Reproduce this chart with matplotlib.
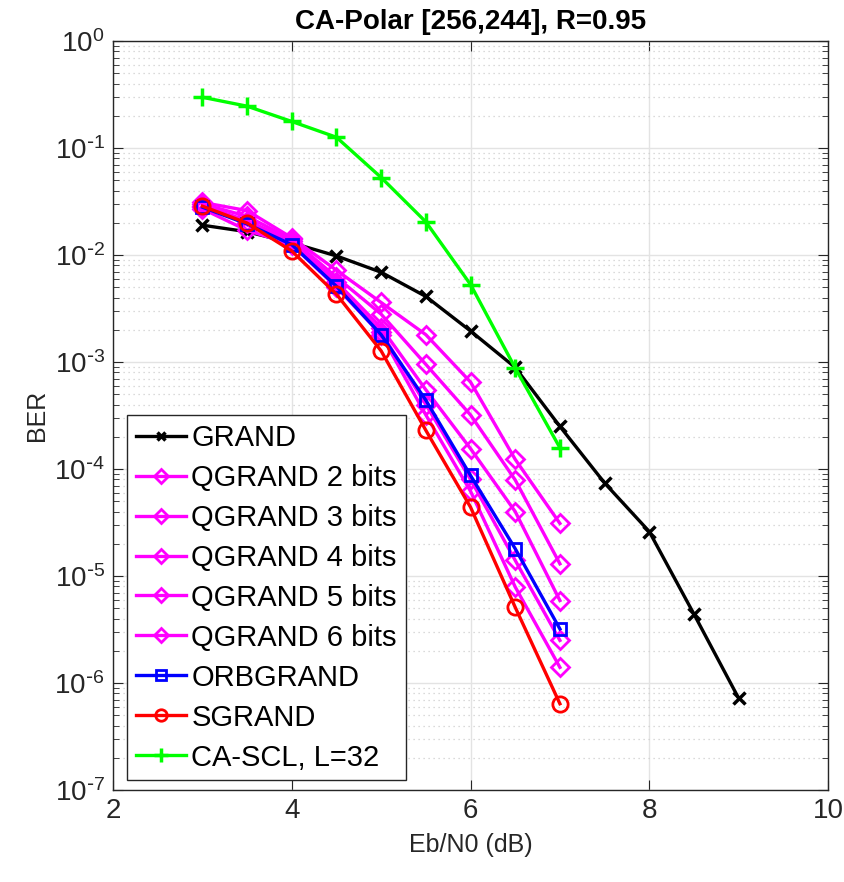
import numpy as np
import matplotlib
matplotlib.use("Agg")
import matplotlib.pyplot as plt
from matplotlib.ticker import LogLocator, FixedLocator, NullFormatter, FuncFormatter

plt.rcParams['font.family'] = ['Liberation Sans', 'DejaVu Sans']
plt.rcParams['mathtext.default'] = 'regular'

# Eb/N0 grids (dB)
snr_grand = [3, 3.5, 4, 4.5, 5, 5.5, 6, 6.5, 7, 7.5, 8, 8.5, 9]
snr_short = [3, 3.5, 4, 4.5, 5, 5.5, 6, 6.5, 7]

# Bit error rates
ber_grand = [1.9e-2, 1.65e-2, 1.3e-2, 9.8e-3, 6.9e-3, 4.1e-3, 1.95e-3, 8.9e-4,
             2.5e-4, 7.4e-5, 2.6e-5, 4.4e-6, 7.2e-7]
ber_q2 = [3.1e-2, 2.6e-2, 1.45e-2, 7.2e-3, 3.6e-3, 1.8e-3, 6.5e-4, 1.23e-4, 3.1e-5]
ber_q3 = [3.0e-2, 2.3e-2, 1.4e-2, 6.2e-3, 2.8e-3, 9.5e-4, 3.2e-4, 7.9e-5, 1.3e-5]
ber_q4 = [2.9e-2, 2.1e-2, 1.35e-2, 5.6e-3, 2.1e-3, 5.5e-4, 1.55e-4, 4.0e-5, 5.9e-6]
ber_q5 = [2.8e-2, 2.0e-2, 1.3e-2, 5.2e-3, 1.9e-3, 4.0e-4, 8.0e-5, 1.4e-5, 2.5e-6]
ber_q6 = [2.7e-2, 1.7e-2, 1.25e-2, 5.0e-3, 1.8e-3, 3.2e-4, 6.2e-5, 7.9e-6, 1.4e-6]
ber_orb = [2.8e-2, 1.95e-2, 1.25e-2, 5.1e-3, 1.8e-3, 4.4e-4, 8.7e-5, 1.8e-5, 3.2e-6]
ber_sgrand = [2.86e-2, 1.99e-2, 1.09e-2, 4.3e-3, 1.27e-3, 2.3e-4, 4.4e-5, 5.1e-6, 6.4e-7]
ber_scl = [0.298, 0.246, 0.177, 0.126, 0.053, 0.0204, 5.3e-3, 8.8e-4, 1.58e-4]

labels = ['GRAND', 'QGRAND 2 bits', 'QGRAND 3 bits', 'QGRAND 4 bits',
          'QGRAND 5 bits', 'QGRAND 6 bits', 'ORBGRAND', 'SGRAND', 'CA-SCL, L=32']
x_ticks = [2, 4, 6, 8, 10]
y_decades = [-7, -6, -5, -4, -3, -2, -1, 0]

fig = plt.figure(figsize=(8.44, 8.82), dpi=100)
ax = fig.add_axes([0.1339, 0.1043, 0.8472, 0.8492])

lw = 2.4
mk = dict(markerfacecolor='none', markeredgewidth=2.0)
ax.plot(snr_grand, ber_grand, color='black', marker='x', markersize=8.5, lw=lw,
        markeredgewidth=2.5, label=labels[0])
magenta = '#FF00FF'
for ber, lab in zip([ber_q2, ber_q3, ber_q4, ber_q5, ber_q6], labels[1:6]):
    ax.plot(snr_short, ber, color=magenta, marker='D', markersize=9.5, lw=lw,
            label=lab, **mk)
ax.plot(snr_short, ber_orb, color='#0000FF', marker='s', markersize=9, lw=lw,
        label=labels[6], **mk)
ax.plot(snr_short, ber_sgrand, color='#FF0000', marker='o', markersize=11, lw=lw,
        label=labels[7], **mk)
ax.plot(snr_short, ber_scl, color='#00FF00', marker='+', markersize=13, lw=lw,
        markeredgewidth=2.5, label=labels[8])

ax.set_yscale('log')
ax.set_xlim(2, 10)
ax.set_ylim(1e-7, 1)
ax.xaxis.set_major_locator(FixedLocator(x_ticks))
ax.yaxis.set_major_locator(FixedLocator([10.0 ** e for e in y_decades]))
minor = [m * 10.0 ** e for e in y_decades[:-1] for m in range(2, 10)]
ax.yaxis.set_minor_locator(FixedLocator(minor))
ax.yaxis.set_minor_formatter(NullFormatter())


def decade_label(v, pos):
    e = int(round(np.log10(v)))
    if e < 0:
        return r'$10^{\text{-}%d}$' % (-e)
    return r'$10^{%d}$' % e


ax.yaxis.set_major_formatter(FuncFormatter(decade_label))

ax.grid(True, which='major', color='#E3E3E3', lw=1.0)
ax.grid(True, which='minor', axis='y', color='#CFCFCF', lw=0.9, linestyle=(0, (1, 3)))
ax.set_axisbelow(True)

axis_col = '#262626'
for s in ax.spines.values():
    s.set_color(axis_col)
    s.set_linewidth(1.0)
ax.tick_params(which='both', direction='in', top=True, right=True, colors=axis_col,
               labelcolor='#262626')
ax.tick_params(which='major', labelsize=20, length=7, pad=6)
ax.tick_params(which='minor', length=4)

ax.set_xlabel('Eb/N0 (dB)', fontsize=18, color='#262626', labelpad=6)
ax.set_ylabel('BER', fontsize=18, color='#262626', labelpad=4)
ax.set_title('CA-Polar [256,244], R=0.95', fontsize=20, fontweight='bold',
             color='black', pad=9)

leg = ax.legend(loc='lower left', fontsize=21, frameon=True, fancybox=False,
                edgecolor='#262626', handlelength=1.7, handletextpad=0.2,
                labelspacing=0.41, borderpad=0.3, borderaxespad=0.0,
                bbox_to_anchor=(0.02, 0.013), framealpha=1, markerscale=0.75)
leg.get_frame().set_linewidth(1.0)

fig.savefig('out.png', dpi=100)
